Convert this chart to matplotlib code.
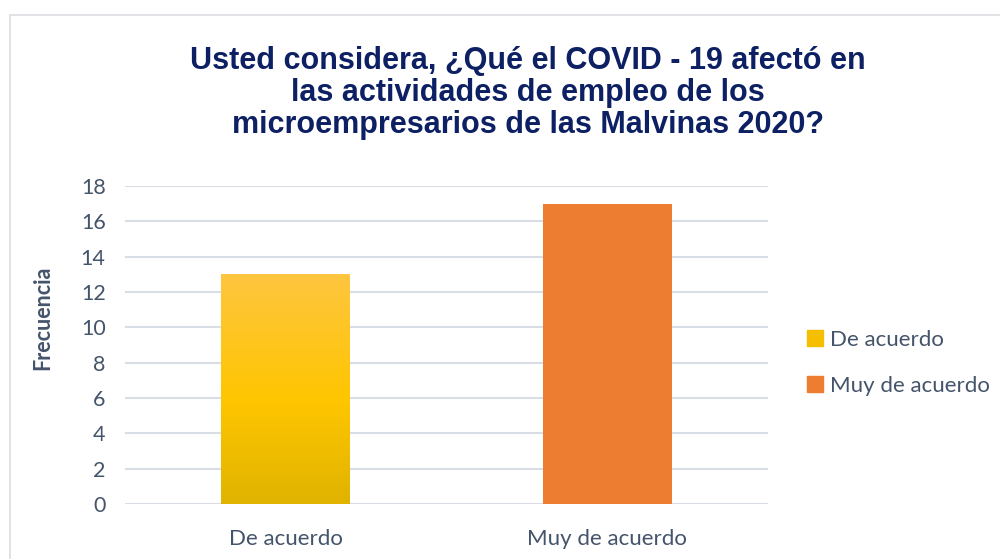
import matplotlib.pyplot as plt
import matplotlib.patches as mpatches
from matplotlib.colors import LinearSegmentedColormap
import numpy as np

categories = ["De acuerdo", "Muy de acuerdo"]
values = [13, 17]
yticks = [0, 2, 4, 6, 8, 10, 12, 14, 16, 18]
title = ("Usted considera, ¿Qué el COVID - 19 afectó en\n"
         "las actividades de empleo de los\n"
         "microempresarios de las Malvinas 2020?")

text_col = "#44546A"
grid_col = "#D9DEE6"
orange = "#ED7D31"
gold = LinearSegmentedColormap.from_list(
    "gold", [(0.0, "#E0B300"), (0.45, "#FFC600"), (1.0, "#FEC540")])

fig = plt.figure(figsize=(10, 5.59), dpi=100)
ax = fig.add_axes([0.125, 0.0984, 0.643, 0.569])

# chart frame (light border on left/top)
fig.patches.append(mpatches.Rectangle((0.010, -0.05), 1.2, 1.023, transform=fig.transFigure,
                                      fill=False, ec="#DADDE2", lw=1.2))

x = np.arange(len(categories))
bars = ax.bar(x, values, width=0.4, color=["none", orange], zorder=3)

# gradient fill for first bar
b = bars[0]
grad = np.linspace(0, 1, 256).reshape(-1, 1)
im = ax.imshow(grad, cmap=gold, origin="lower", aspect="auto", zorder=3,
               extent=[b.get_x(), b.get_x() + b.get_width(), 0, b.get_height()])
im.set_clip_path(b)

ax.set_xlim(-0.5, 1.5)
ax.set_ylim(0, 18)
ax.set_yticks(yticks)
ax.set_xticks(x)
ax.set_xticklabels(categories)
ax.tick_params(axis="y", length=0, labelsize=15.5, labelcolor=text_col, pad=14)
ax.tick_params(axis="x", length=0, labelsize=16, labelcolor=text_col, pad=18)
for lab in ax.get_xticklabels() + ax.get_yticklabels():
    lab.set_family("Lato")
ax.grid(axis="y", color=grid_col, lw=1.5, zorder=0)
for s in ax.spines.values():
    s.set_visible(False)

ax.set_ylabel("Frecuencia", fontsize=15.5, fontweight="bold", color=text_col,
              family="Lato")
ax.yaxis.set_label_coords(-0.112, 0.585)

handles = [mpatches.Patch(color="#F5BF00", label=categories[0]),
           mpatches.Patch(color=orange, label=categories[1])]
fig.legend(handles=handles, loc="center left", bbox_to_anchor=(0.807, 0.351),
           frameon=False, handlelength=0.7, handleheight=0.7, handletextpad=0.35,
           labelspacing=1.15, prop={"family": "Lato", "size": 16}, labelcolor=text_col,
           borderpad=0, borderaxespad=0)

fig.text(0.528, 0.834, title, ha="center", va="center", fontsize=22,
         fontweight="bold", color="#0D2063", family="Liberation Sans", linespacing=1.08)

fig.savefig("out.png", dpi=100)
